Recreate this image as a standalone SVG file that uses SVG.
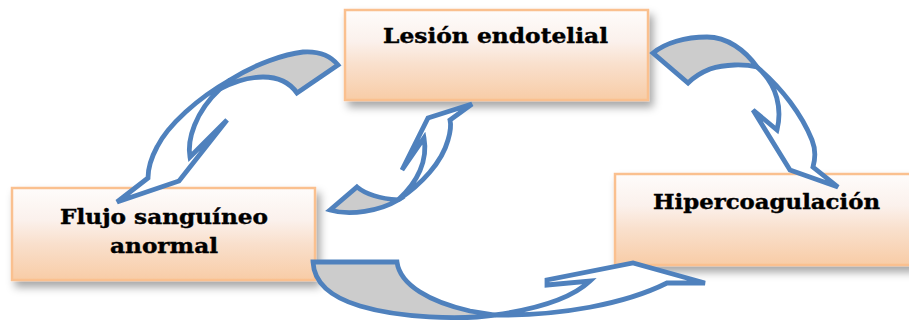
<svg xmlns="http://www.w3.org/2000/svg" width="909" height="320" viewBox="0 0 909 320">
<defs>
<linearGradient id="boxg" x1="0" y1="0" x2="0" y2="1">
<stop offset="0" stop-color="#FEFCFB"/>
<stop offset="0.35" stop-color="#FBF1EC"/>
<stop offset="0.6" stop-color="#F9E0CD"/>
<stop offset="1" stop-color="#F8CCA6"/>
</linearGradient>
<filter id="shadow" x="-10%" y="-20%" width="130%" height="170%">
<feDropShadow dx="4" dy="6" stdDeviation="4" flood-color="#000" flood-opacity="0.35"/>
</filter>
</defs>
<style>
.box{fill:url(#boxg);stroke:#FAC08F;stroke-width:2.5;filter:url(#shadow);}
.lbl{font-family:"DejaVu Serif","Liberation Serif",serif;font-weight:bold;font-size:21px;fill:#000;stroke:#000;stroke-width:0.4;}
.back{fill:#CCCCCC;stroke:#4F81BD;stroke-width:4.8;stroke-linejoin:miter;}
.front{fill:#FFFFFF;stroke:#4F81BD;stroke-width:4.8;stroke-linejoin:miter;}
</style>
<rect width="909" height="320" fill="#FFFFFF"/>
<g id="lesion">
<rect class="box" x="345" y="10" width="303" height="90"/>
<text class="lbl" x="383" y="43" textLength="225" lengthAdjust="spacingAndGlyphs">Lesión endotelial</text>
</g>
<g id="flujo">
<rect class="box" x="12" y="188" width="303" height="92"/>
<text class="lbl" x="60" y="224" textLength="208" lengthAdjust="spacingAndGlyphs">Flujo sanguíneo</text>
<text class="lbl" x="110" y="253" textLength="108" lengthAdjust="spacingAndGlyphs">anormal</text>
</g>
<g id="hiper">
<rect class="box" x="615" y="174" width="300" height="91"/>
<text class="lbl" x="653" y="209" textLength="227" lengthAdjust="spacingAndGlyphs">Hipercoagulación</text>
</g>
<g id="connectors">
<!-- Lesión -> Flujo -->
<path class="back" d="M338,65 C330,55 318,51 303,52 C285,54 255,64 230,80 L220,89 C235,81 250,77 263,77 C278,77 290,83 297,93 Z"/>
<path class="front" d="M230,80 C198,98 168,125 157,147 C150,160 148,170 148,178 L117,202 L179,181 L227,120 L190,157 C187,140 195,112 220,89 Z"/>
<!-- Flujo -> Lesión -->
<path class="back" d="M330,210 L357,187 C368,196 385,199 398,200 C380,211 350,216 330,210 Z"/>
<path class="front" d="M398,200 C422,184 442,162 448,140 C451,130 451,124 450,120 L472,104 L428,118 L402,170 L424,138 C428,160 418,182 398,200 Z"/>
<!-- Lesión -> Hipercoagulación -->
<path class="back" d="M653,53 C665,43 685,37 707,37 C727,37 745,50 757,67 C745,64 725,64 710,69 C700,73 693,78 688,83 Z"/>
<path class="front" d="M757,67 C782,88 802,115 812,140 C816,150 815,160 813,167 L838,187 L790,170 L753,110 L777,130 C782,110 778,85 757,67 Z"/>
<!-- Flujo -> Hipercoagulación -->
<path class="back" d="M313,262 L397,262 C400,285 430,302 470,311 L495,315 C460,320 400,318 360,306 C330,297 314,282 313,262 Z"/>
<path class="front" d="M495,315 C560,316 625,304 667,283 L705,283 L633,263 L547,280 L547,285 L590,281 C570,300 530,310 495,315 Z"/>
</g>
</svg>
